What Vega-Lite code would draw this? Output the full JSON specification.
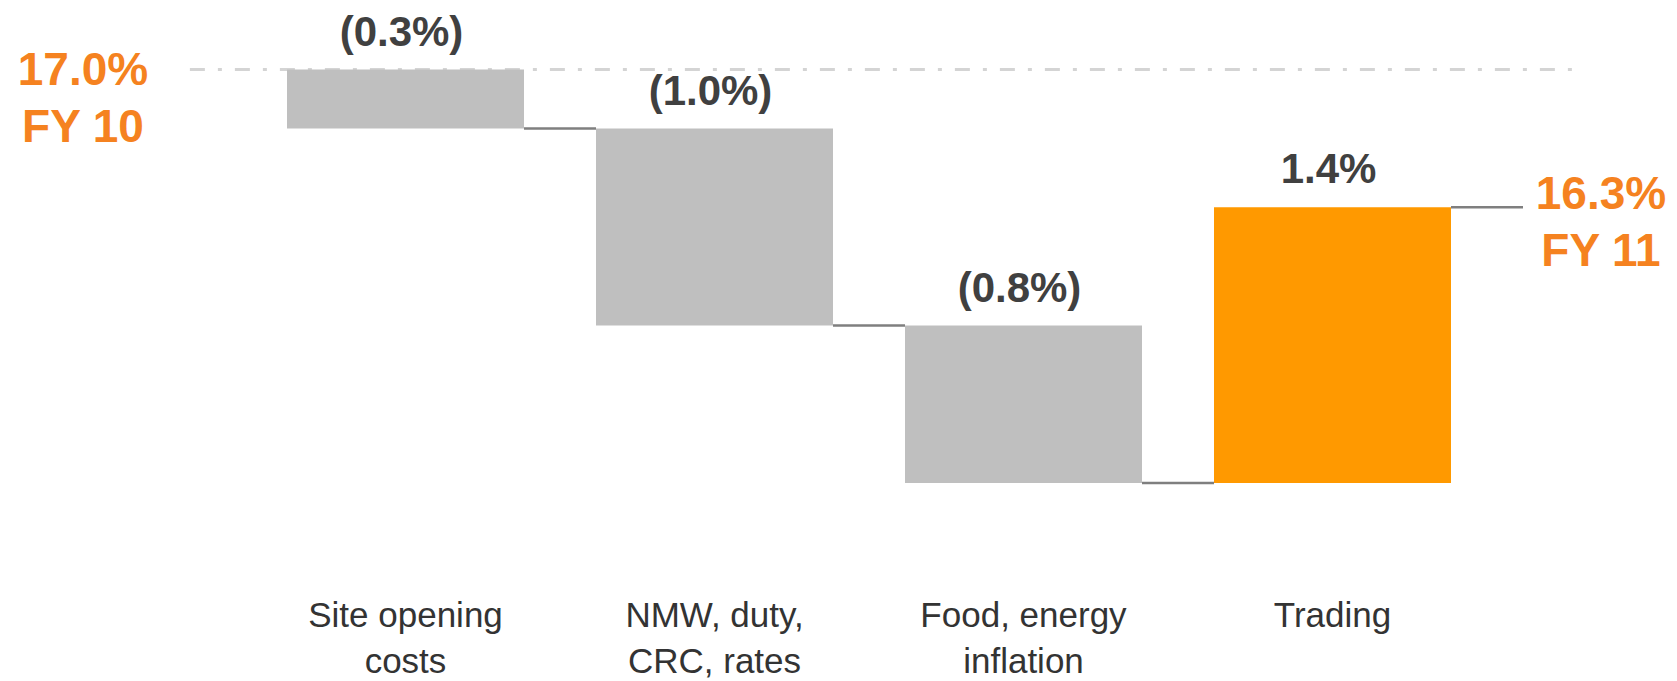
{
  "$schema": "https://vega.github.io/schema/vega-lite/v6.json",
  "width": 1677,
  "height": 600,
  "autosize": {"type": "none"},
  "padding": {"left": 0, "top": 0, "right": 0, "bottom": 81},
  "background": "white",
  "config": {
    "view": {"stroke": null},
    "font": "Liberation Sans",
    "axisX": {"domain": false, "ticks": false, "tickSize": 0, "grid": false,
              "labelAngle": 0, "labelPadding": 26, "labelBaseline": "alphabetic", "labelFont": "Liberation Sans",
              "labelFontSize": 35, "labelColor": "#333333", "labelLineHeight": 46, "labelLimit": 500, "labelOverlap": false}
  },
  "datasets": {
    "bars": [
      {"cat": "Site opening costs", "start": 17.0, "end": 16.7, "type": "decrease", "label": "(0.3%)"},
      {"cat": "NMW, duty, CRC, rates", "start": 16.7, "end": 15.7, "type": "decrease", "label": "(1.0%)"},
      {"cat": "Food, energy inflation", "start": 15.7, "end": 14.9, "type": "decrease", "label": "(0.8%)"},
      {"cat": "Trading", "start": 14.9, "end": 16.3, "type": "increase", "label": "1.4%"}
    ],
    "steps": [
      {"from": "Site opening costs", "to": "NMW, duty, CRC, rates", "level": 16.7},
      {"from": "NMW, duty, CRC, rates", "to": "Food, energy inflation", "level": 15.7},
      {"from": "Food, energy inflation", "to": "Trading", "level": 14.9},
      {"from": "Trading", "to": "FY 11", "level": 16.3}
    ],
    "totals": [
      {"cat": "FY 10", "value": 17.0, "label": "17.0%"},
      {"cat": "FY 11", "value": 16.3, "label": "16.3%"}
    ],
    "baseline": [
      {"from": "FY 10", "to": "FY 11", "level": 17.0}
    ]
  },
  "layer": [
    {
      "data": {"name": "baseline"},
      "mark": {"type": "rule", "color": "#d4d4d4", "strokeWidth": 3, "strokeDash": [15, 13, 4, 13]},
      "encoding": {
        "x": {"field": "from", "type": "nominal", "bandPosition": 0.894,
              "scale": {"domain": ["FY 10", "Site opening costs", "NMW, duty, CRC, rates", "Food, energy inflation", "Trading", "FY 11"], "range": [-22, 1760], "paddingInner": 0.233, "paddingOuter": 0},
              "axis": {"orient": "bottom", "title": null,
                       "labelExpr": "datum.value == 'Site opening costs' ? ['Site opening', 'costs'] : datum.value == 'NMW, duty, CRC, rates' ? ['NMW, duty,', 'CRC, rates'] : datum.value == 'Food, energy inflation' ? ['Food, energy', 'inflation'] : datum.value == 'Trading' ? 'Trading' : ''"}},
        "x2": {"field": "to", "bandPosition": 0.23},
        "y": {"field": "level", "type": "quantitative", "scale": {"domain": [14.306, 17.353], "nice": false, "zero": false}, "axis": null}
      }
    },
    {
      "data": {"name": "bars"},
      "mark": {"type": "bar"},
      "encoding": {
        "x": {"field": "cat", "type": "nominal",
              "axis": {"orient": "bottom", "title": null,
                       "labelExpr": "datum.value == 'Site opening costs' ? ['Site opening', 'costs'] : datum.value == 'NMW, duty, CRC, rates' ? ['NMW, duty,', 'CRC, rates'] : datum.value == 'Food, energy inflation' ? ['Food, energy', 'inflation'] : datum.value == 'Trading' ? 'Trading' : ''"}},
        "y": {"field": "start", "type": "quantitative", "axis": null},
        "y2": {"field": "end"},
        "color": {"field": "type", "type": "nominal", "scale": {"domain": ["decrease", "increase"], "range": ["#bfbfbf", "#ff9900"]}, "legend": null}
      }
    },
    {
      "data": {"name": "steps"},
      "mark": {"type": "rule", "color": "#7f7f7f", "strokeWidth": 2.5},
      "encoding": {
        "x": {"field": "from", "type": "nominal", "bandPosition": 1,
              "axis": {"orient": "bottom", "title": null,
                       "labelExpr": "datum.value == 'Site opening costs' ? ['Site opening', 'costs'] : datum.value == 'NMW, duty, CRC, rates' ? ['NMW, duty,', 'CRC, rates'] : datum.value == 'Food, energy inflation' ? ['Food, energy', 'inflation'] : datum.value == 'Trading' ? 'Trading' : ''"}},
        "x2": {"field": "to", "bandPosition": 0},
        "y": {"field": "level", "type": "quantitative", "axis": null}
      }
    },
    {
      "data": {"name": "bars"},
      "transform": [
        {"fold": ["start", "end"], "as": ["edge", "level"]},
        {"aggregate": [{"op": "max", "field": "level", "as": "top"}], "groupby": ["cat", "label"]}
      ],
      "mark": {"type": "text", "font": "Liberation Sans", "fontWeight": "bold", "fontSize": 42, "color": "#404040", "baseline": "alphabetic", "align": "center", "dx": -4, "dy": -24},
      "encoding": {
        "x": {"field": "cat", "type": "nominal",
              "axis": {"orient": "bottom", "title": null,
                       "labelExpr": "datum.value == 'Site opening costs' ? ['Site opening', 'costs'] : datum.value == 'NMW, duty, CRC, rates' ? ['NMW, duty,', 'CRC, rates'] : datum.value == 'Food, energy inflation' ? ['Food, energy', 'inflation'] : datum.value == 'Trading' ? 'Trading' : ''"}},
        "y": {"field": "top", "type": "quantitative", "axis": null},
        "text": {"field": "label", "type": "nominal"}
      }
    },
    {
      "data": {"name": "totals"},
      "transform": [{"filter": "datum.cat == 'FY 10'"}],
      "mark": {"type": "text", "font": "Liberation Sans", "fontWeight": "bold", "fontSize": 46, "color": "#f58220", "baseline": "alphabetic", "align": "center", "dx": -13.5, "dy": 15.5},
      "encoding": {
        "x": {"field": "cat", "type": "nominal",
              "axis": {"orient": "bottom", "title": null,
                       "labelExpr": "datum.value == 'Site opening costs' ? ['Site opening', 'costs'] : datum.value == 'NMW, duty, CRC, rates' ? ['NMW, duty,', 'CRC, rates'] : datum.value == 'Food, energy inflation' ? ['Food, energy', 'inflation'] : datum.value == 'Trading' ? 'Trading' : ''"}},
        "y": {"field": "value", "type": "quantitative", "axis": null},
        "text": {"field": "label", "type": "nominal"}
      }
    },
    {
      "data": {"name": "totals"},
      "transform": [{"filter": "datum.cat == 'FY 10'"}],
      "mark": {"type": "text", "font": "Liberation Sans", "fontWeight": "bold", "fontSize": 46, "color": "#f58220", "baseline": "alphabetic", "align": "center", "dx": -13.5, "dy": 72.5},
      "encoding": {
        "x": {"field": "cat", "type": "nominal",
              "axis": {"orient": "bottom", "title": null,
                       "labelExpr": "datum.value == 'Site opening costs' ? ['Site opening', 'costs'] : datum.value == 'NMW, duty, CRC, rates' ? ['NMW, duty,', 'CRC, rates'] : datum.value == 'Food, energy inflation' ? ['Food, energy', 'inflation'] : datum.value == 'Trading' ? 'Trading' : ''"}},
        "y": {"field": "value", "type": "quantitative", "axis": null},
        "text": {"field": "cat", "type": "nominal"}
      }
    },
    {
      "data": {"name": "totals"},
      "transform": [{"filter": "datum.cat == 'FY 11'"}],
      "mark": {"type": "text", "font": "Liberation Sans", "fontWeight": "bold", "fontSize": 46, "color": "#f58220", "baseline": "alphabetic", "align": "center", "dx": -40.5, "dy": 1.5},
      "encoding": {
        "x": {"field": "cat", "type": "nominal",
              "axis": {"orient": "bottom", "title": null,
                       "labelExpr": "datum.value == 'Site opening costs' ? ['Site opening', 'costs'] : datum.value == 'NMW, duty, CRC, rates' ? ['NMW, duty,', 'CRC, rates'] : datum.value == 'Food, energy inflation' ? ['Food, energy', 'inflation'] : datum.value == 'Trading' ? 'Trading' : ''"}},
        "y": {"field": "value", "type": "quantitative", "axis": null},
        "text": {"field": "label", "type": "nominal"}
      }
    },
    {
      "data": {"name": "totals"},
      "transform": [{"filter": "datum.cat == 'FY 11'"}],
      "mark": {"type": "text", "font": "Liberation Sans", "fontWeight": "bold", "fontSize": 46, "color": "#f58220", "baseline": "alphabetic", "align": "center", "dx": -40.5, "dy": 58.5},
      "encoding": {
        "x": {"field": "cat", "type": "nominal",
              "axis": {"orient": "bottom", "title": null,
                       "labelExpr": "datum.value == 'Site opening costs' ? ['Site opening', 'costs'] : datum.value == 'NMW, duty, CRC, rates' ? ['NMW, duty,', 'CRC, rates'] : datum.value == 'Food, energy inflation' ? ['Food, energy', 'inflation'] : datum.value == 'Trading' ? 'Trading' : ''"}},
        "y": {"field": "value", "type": "quantitative", "axis": null},
        "text": {"field": "cat", "type": "nominal"}
      }
    }
  ]
}
